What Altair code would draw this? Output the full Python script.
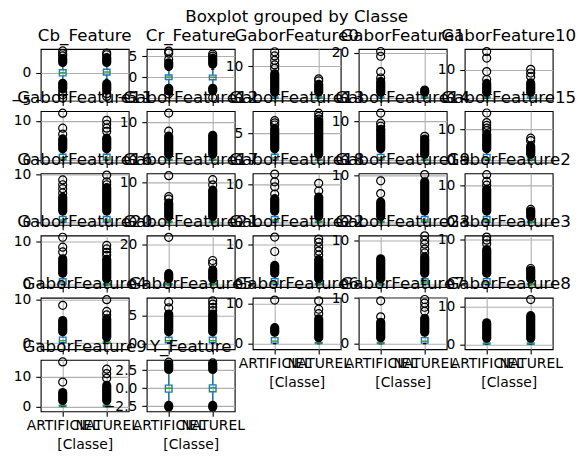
import altair as alt
import pandas as pd

classes = ["ARTIFICIEL", "NATUREL"]
features = ["Cb_Feature", "Cr_Feature", "GaborFeature0", "GaborFeature1", "GaborFeature10",
            "GaborFeature11", "GaborFeature12", "GaborFeature13", "GaborFeature14", "GaborFeature15",
            "GaborFeature16", "GaborFeature17", "GaborFeature18", "GaborFeature19", "GaborFeature2",
            "GaborFeature20", "GaborFeature21", "GaborFeature22", "GaborFeature23", "GaborFeature3",
            "GaborFeature4", "GaborFeature5", "GaborFeature6", "GaborFeature7", "GaborFeature8",
            "GaborFeature9", "Y_Feature"]

y_lo = [-5.05, -5.6, -0.73, -1.04, -0.83,
        -0.59, -0.62, -0.44, -0.6, -0.76,
        -0.48, -0.58, -0.61, -0.49, -0.63,
        -0.54, -1.17, -0.59, -0.53, -0.52,
        -1.38, -1.09, -1.38, -1.21, -1.33,
        -1.63, -3.22]
y_hi = [4.35, 6.7, 15.36, 21.7, 17.4,
        12.4, 13.0, 9.18, 12.7, 16.0,
        10.16, 12.18, 12.8, 10.37, 13.16,
        11.4, 24.6, 12.3, 11.18, 10.94,
        10.46, 8.27, 11.5, 10.1, 12.4,
        15.5, 3.93]
y_ticks = [[-5, 0], [-5, 0, 5], [0, 10], [0, 20], [0, 10],
           [0, 10], [0, 10], [0, 5], [0, 10], [0, 10],
           [0, 10], [0, 10], [0, 10], [0, 10], [0, 10],
           [0, 10], [0, 20], [0, 10], [0, 10], [0, 10],
           [0, 10], [0, 5], [0, 10], [0, 10], [0, 10],
           [0, 10], [-2.5, 0, 2.5]]

art_q1 = [-0.55, -0.6, 0, 0, 0, 0.13, 0, 0.09, 0.13, 0.16, 0.1, 0, 0.13, 0, 0.13,
          0.12, 0, 0.13, 0, 0.11, 0.11, 0.09, 0.13, 0, 0, 0, -0.55]
art_med = [0.0, 0.0, 0.16, 0.22, 0.18, 0.63, 0.13, 0.47, 0.65, 0.81, 0.52, 0.12, 0.65, 0.11, 0.67,
           0.58, 0.25, 0.63, 0.11, 0.56, 0.57, 0.45, 0.63, 0.11, 0.13, 0.17, 0.0]
art_q3 = [0.55, 0.5, 0.38, 0.53, 0.43, 1.52, 0.32, 1.12, 1.55, 1.95, 1.24, 0.3, 1.56, 0.25, 1.61,
          1.39, 0.6, 1.5, 0.27, 1.34, 1.38, 1.09, 1.5, 0.26, 0.32, 0.4, 0.42]
art_wlo = [-1.3, -2.1, 0, 0, 0, 0, 0, 0, 0, 0, 0, 0, 0, 0, 0,
           0, 0, 0, 0, 0, 0, 0, 0, 0, 0, 0, -2.2]
art_whi = [1.3, 1.6, 0.94, 1.33, 1.06, 2.27, 0.79, 1.68, 2.33, 2.93, 1.86, 0.74, 2.34, 0.63, 2.41,
           2.09, 1.5, 2.25, 0.68, 2.0, 2.07, 1.64, 2.25, 0.66, 0.8, 1.0, 2.35]

nat_q1 = [-0.4, -0.65, 0, 0, 0, 0.13, 0, 0, 0, 0, 0.1, 0, 0, 0.11, 0,
          0, 0, 0, 0.11, 0, 0, 0.09, 0, 0.11, 0, 0, -0.5]
nat_med = [0.15, -0.05, 0.16, 0.22, 0.18, 0.63, 0.13, 0.09, 0.13, 0.16, 0.52, 0.12, 0.13, 0.53, 0.13,
           0.12, 0.25, 0.13, 0.57, 0.11, 0.11, 0.45, 0.13, 0.55, 0.13, 0.17, 0.05]
nat_q3 = [0.65, 0.45, 0.38, 0.53, 0.43, 1.52, 0.32, 0.22, 0.31, 0.39, 1.24, 0.3, 0.31, 1.27, 0.32,
          0.28, 0.6, 0.3, 1.36, 0.27, 0.28, 1.09, 0.3, 1.32, 0.32, 0.4, 0.45]
nat_wlo = [-1.2, -2.1, 0, 0, 0, 0, 0, 0, 0, 0, 0, 0, 0, 0, 0,
           0, 0, 0, 0, 0, 0, 0, 0, 0, 0, 0, -2.2]
nat_whi = [1.4, 1.9, 0.94, 1.33, 1.06, 2.27, 0.79, 0.56, 0.78, 0.98, 1.86, 0.74, 0.78, 1.9, 0.8,
           0.7, 1.5, 0.75, 2.05, 0.67, 0.69, 1.64, 0.75, 1.98, 0.8, 1.0, 2.35]

# dense runs of overlapping outliers (upper side)
art_up_lo = [1.9, 2.6, 1.9, 2.65, 2.13, 2.9, 1.59, 2.15, 2.97, 3.75, 2.38, 1.49, 3.0, 1.27, 3.08,
             2.67, 3.0, 2.88, 1.36, 2.56, 2.64, 2.09, 2.88, 1.32, 1.6, 2.0, 2.6]
art_up_hi = [2.6, 3.4, 7.6, 7.4, 5.2, 5.4, 6.4, 5.9, 8.0, 8.5, 5.2, 4.8, 6.2, 4.3, 8.9,
             6.0, 5.5, 4.8, 5.9, 7.8, 5.2, 5.3, 4.0, 4.7, 5.7, 4.6, 3.3]
nat_up_lo = [1.9, 3.1, 1.9, 2.65, 2.13, 2.9, 1.59, 1.12, 1.55, 1.95, 2.38, 1.49, 1.56, 2.43, 1.61,
             1.39, 3.0, 1.5, 2.61, 1.34, 1.38, 2.09, 1.5, 2.53, 1.6, 2.0, 2.6]
nat_up_hi = [2.8, 4.5, 4.3, 3.6, 5.4, 5.6, 6.6, 7.3, 5.5, 4.7, 7.2, 8.0, 6.6, 8.6, 3.0,
             5.9, 7.4, 6.3, 6.3, 3.2, 5.6, 5.3, 6.2, 5.5, 7.6, 7.0, 3.3]
# dense runs of overlapping outliers (lower side, only centred features)
dn_features = ["Cb_Feature", "Cr_Feature", "Y_Feature"]
art_dn_lo = [-2.9, -3.3, -2.6]
art_dn_hi = [-1.9, -2.7, -2.4]
nat_dn_lo = [-3.2, -3.3, -2.6]
nat_dn_hi = [-2.0, -2.7, -2.4]

art_out = [[3.1, 3.5, 4.0, -3.5, -4.0, -4.6], [4.2, 5.7, 6.2, -4.0], [14.5, 13.2, 11.8, 10.4, 9.3],
           [20.6, 18.5, 11.7, 8.9], [16.5, 14.2, 9.4, 6.6],
           [11.9, 8.1, 6.6], [12.5, 7.7], [7.4, 7.0, 6.6], [12.2, 9.6, 8.8], [15.4, 12.3, 11.4, 10.5, 9.7],
           [8.8, 7.8, 7.0, 6.1], [11.6, 6.4, 5.8], [12.6, 10.6, 9.3, 7.4], [8.8, 6.1], [12.8, 11.0, 10.0],
           [11.0, 8.7, 7.6], [23.7], [11.9, 8.3], [], [10.6, 9.9, 9.1],
           [8.7], [7.5, 6.4], [10.9], [9.4, 5.9], [],
           [14.8, 8.1], [3.6]]
nat_out = [[3.3, 3.6, -3.8, -4.3], [5.0, 5.5, -4.9], [6.0, 5.4], [], [10.2, 8.9, 7.6],
           [10.1, 9.1, 8.1, 7.3], [], [8.8, 8.2, 7.7], [6.2], [7.2, 6.4],
           [9.8, 8.4, 7.8], [10.6, 9.3], [10.2, 8.2], [10.1], [3.5],
           [9.1, 8.3, 7.5, 6.8], [12.1, 10.6], [11.4, 10.6, 9.4, 8.4, 7.4], [11.1, 10.1, 9.2, 8.1, 7.2], [3.6],
           [10.0, 7.3, 6.5], [7.7, 7.1, 6.5, 5.9], [10.7, 8.6, 7.5], [9.7, 8.9, 8.0, 7.1], [11.9],
           [12.4, 10.9, 9.4], [3.5]]

suptitle = "Boxplot grouped by Classe"
x_title = "[Classe]"

BLUE = "#1f77b4"
GREEN = "#2ca02c"
GRID = "#b0b0b0"
FONT = "DejaVu Sans"
W, H = 88, 51.5
FS_T = 16.7
FS_L = 13.9
bottom_panels = {22, 23, 24, 25, 26}


def panel(i):
    name = features[i]
    show_x = i in bottom_panels
    xsc = alt.Scale(type="point", padding=0.5, domain=classes)
    xkw = dict(labels=show_x, labelAngle=0, labelOverlap=False, labelFlush=False,
               tickSize=4.9, tickWidth=1.1, tickColor="black",
               labelPadding=2.4, labelFontSize=FS_L, labelColor="black", labelFont=FONT,
               grid=True, gridColor=GRID, gridWidth=1.1, domain=False,
               titleFontSize=FS_L, titleFontWeight="normal", titleColor="black",
               titleFont=FONT, titlePadding=5)
    xax = alt.Axis(title=x_title if show_x else None, **xkw)
    ysc = alt.Scale(domain=[y_lo[i], y_hi[i]], nice=False, zero=False)
    yax = alt.Axis(values=y_ticks[i], format=(".1f" if name == "Y_Feature" else "d"), title=None,
                   tickSize=4.9, tickWidth=1.1, tickColor="black", labelPadding=4.9,
                   labelFontSize=FS_L, labelColor="black", labelFont=FONT, labelOverlap=False,
                   grid=True, gridColor=GRID, gridWidth=1.1, domain=False)
    X = alt.X("Classe:N", scale=xsc, axis=xax)

    def Y(f):
        return alt.Y(f + ":Q", scale=ysc, axis=yax)

    stats = pd.DataFrame({
        "Classe": classes,
        "q1": [art_q1[i], nat_q1[i]], "med": [art_med[i], nat_med[i]],
        "q3": [art_q3[i], nat_q3[i]], "wlo": [art_wlo[i], nat_wlo[i]],
        "whi": [art_whi[i], nat_whi[i]],
    })
    whisk = pd.DataFrame({
        "Classe": classes + classes,
        "a": [art_q1[i], nat_q1[i], art_q3[i], nat_q3[i]],
        "b": [art_wlo[i], nat_wlo[i], art_whi[i], nat_whi[i]],
    })
    caps = pd.DataFrame({
        "Classe": classes + classes,
        "v": [art_wlo[i], nat_wlo[i], art_whi[i], nat_whi[i]],
    })
    dense_c = list(classes)
    dense_a = [art_up_lo[i], nat_up_lo[i]]
    dense_b = [art_up_hi[i], nat_up_hi[i]]
    if name in dn_features:
        k = dn_features.index(name)
        dense_c += classes
        dense_a += [art_dn_lo[k], nat_dn_lo[k]]
        dense_b += [art_dn_hi[k], nat_dn_hi[k]]
    dense = pd.DataFrame({"Classe": dense_c, "a": dense_a, "b": dense_b})
    out_c = [classes[0]] * len(art_out[i]) + [classes[1]] * len(nat_out[i])
    outs = pd.DataFrame({"Classe": out_c, "v": art_out[i] + nat_out[i]})

    layers = [
        alt.Chart(stats).mark_bar(size=6.6, fillOpacity=0, stroke=BLUE, strokeWidth=1.4).encode(
            x=X, y=Y("q1"), y2="q3"),
        alt.Chart(whisk).mark_rule(color=BLUE, strokeWidth=1.4).encode(x=X, y=Y("a"), y2="b"),
        alt.Chart(caps).mark_tick(color="black", size=3.3, thickness=1.4, opacity=1).encode(x=X, y=Y("v")),
        alt.Chart(stats).mark_tick(color=GREEN, size=6.6, thickness=1.4, opacity=1).encode(x=X, y=Y("med")),
        alt.Chart(dense).mark_rule(color="black", strokeWidth=9.2, strokeCap="round").encode(
            x=X, y=Y("a"), y2="b"),
    ]
    if len(outs):
        layers.append(
            alt.Chart(outs).mark_point(shape="circle", size=64, filled=False, color="black",
                                       strokeWidth=1.2, opacity=1).encode(x=X, y=Y("v")))
    layers.append(
        alt.Chart(pd.DataFrame({"t": [name]})).mark_text(
            font=FONT, fontSize=FS_T, baseline="alphabetic", align="center", color="black").encode(
            text="t:N", x=alt.value(W / 2), y=alt.value(-8.3)))
    if i == 2:
        layers.append(
            alt.Chart(pd.DataFrame({"t": [suptitle]})).mark_text(
                font=FONT, fontSize=FS_T, baseline="alphabetic", align="center", color="black").encode(
                text="t:N", x=alt.value(W / 2), y=alt.value(-26.8)))
    return alt.layer(*layers).properties(width=W, height=H)


chart = alt.concat(*[panel(i) for i in range(len(features))], columns=5,
                   spacing=alt.RowColnumber(row=10.17, column=18), bounds="flush").properties(
    padding={"left": 9.7, "top": 8, "right": 5, "bottom": 5}
).configure(font=FONT).configure_view(stroke="black", strokeWidth=1.1)

chart.save("out.html", embed_options={"renderer": "svg", "actions": False})
